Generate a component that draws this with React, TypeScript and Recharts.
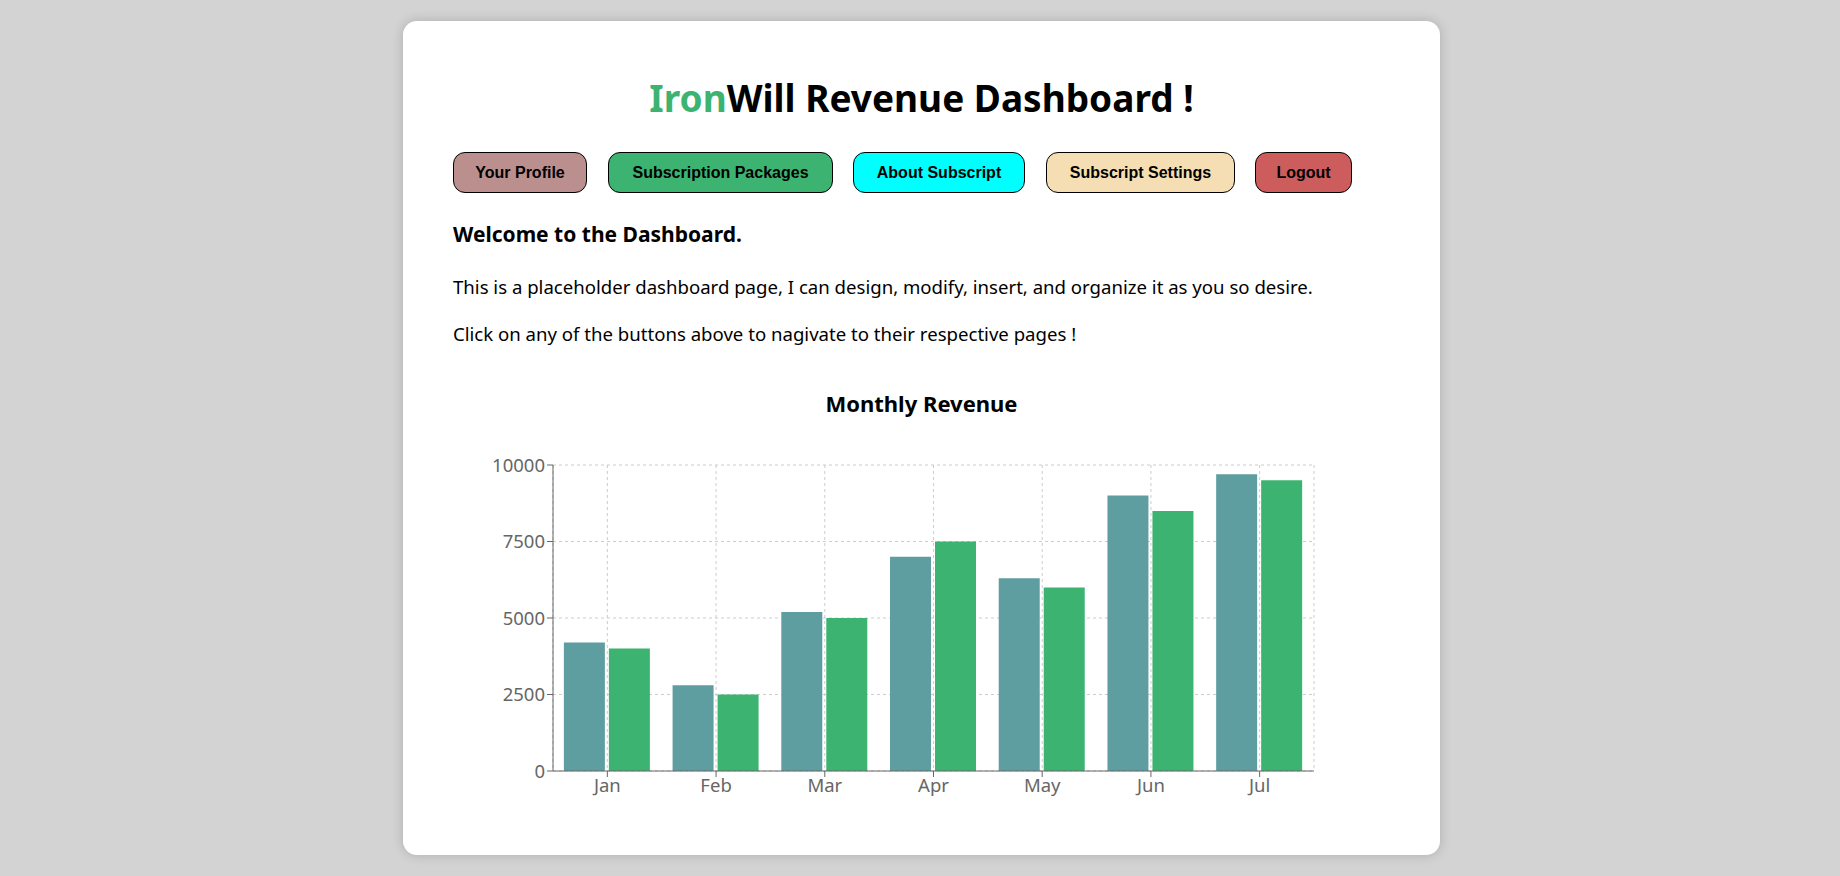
import React from 'react';
import { BarChart, Bar, XAxis, YAxis, CartesianGrid } from 'recharts';

const months = ['Jan', 'Feb', 'Mar', 'Apr', 'May', 'Jun', 'Jul'];
const revenueA = [4200, 2800, 5200, 7000, 6300, 9000, 9700];
const revenueB = [4000, 2500, 5000, 7500, 6000, 8500, 9500];
const yTicks = [0, 2500, 5000, 7500, 10000];

const data = months.map((name, i) => ({ name, a: revenueA[i], b: revenueB[i] }));

const buttons = [
  { label: 'Your Profile', bg: '#bc8f8f', left: 453, width: 134 },
  { label: 'Subscription Packages', bg: '#3cb371', left: 608, width: 225 },
  { label: 'About Subscript', bg: '#00ffff', left: 853, width: 172 },
  { label: 'Subscript Settings', bg: '#f5deb3', left: 1046, width: 189 },
  { label: 'Logout', bg: '#cd5c5c', left: 1255, width: 97 },
];

const font = '"Segoe UI", "Noto Sans", "Open Sans", sans-serif';

export default function App() {
  return (
    <div style={{ position: 'fixed', left: 0, top: 0, width: 1840, height: 876, background: '#d3d3d3', fontFamily: font, overflow: 'hidden' }}>
      <div style={{ position: 'absolute', left: 403, top: 21, width: 1037, height: 834, background: '#fff', borderRadius: 14, boxShadow: '0 0 12px rgba(0,0,0,0.18)' }} />
      <div style={{ position: 'absolute', left: 403, width: 1037, top: 72, textAlign: 'center', fontSize: 37, fontWeight: 700, color: '#000' }}>
        <span style={{ color: '#3cb371' }}>Iron</span>Will Revenue Dashboard !
      </div>
      {buttons.map((b) => (
        <div key={b.label} style={{ position: 'absolute', left: b.left, top: 152, width: b.width, height: 41, boxSizing: 'border-box', background: b.bg, border: '1px solid #000', borderRadius: 12, fontFamily: 'Arial, "Liberation Sans", sans-serif', fontWeight: 700, fontSize: 16, display: 'flex', alignItems: 'center', justifyContent: 'center' }}>
          {b.label}
        </div>
      ))}
      <div style={{ position: 'absolute', left: 453, top: 220, fontSize: 21, fontWeight: 700 }}>Welcome to the Dashboard.</div>
      <div style={{ position: 'absolute', left: 453, top: 274, fontSize: 18.6 }}>
        This is a placeholder dashboard page, I can design, modify, insert, and organize it as you so desire.
      </div>
      <div style={{ position: 'absolute', left: 453, top: 321, fontSize: 18.6 }}>
        Click on any of the buttons above to nagivate to their respective pages !
      </div>
      <div style={{ position: 'absolute', left: 403, width: 1037, top: 388, textAlign: 'center', fontSize: 22, fontWeight: 700 }}>Monthly Revenue</div>
      <div style={{ position: 'absolute', left: 485, top: 450 }}>
        <BarChart width={834} height={356} data={data} margin={{ top: 15, right: 5, bottom: 5, left: 8 }}>
          <CartesianGrid strokeDasharray="3 3" stroke="#ccc" />
          <XAxis dataKey="name" tick={{ fill: '#666', fontSize: 18.5 }} stroke="#666" />
          <YAxis ticks={yTicks} domain={[0, 10000]} tick={{ fill: '#666', fontSize: 18.5 }} stroke="#666" />
          <Bar dataKey="a" fill="#5f9ea0" isAnimationActive={false} />
          <Bar dataKey="b" fill="#3cb371" isAnimationActive={false} />
        </BarChart>
      </div>
    </div>
  );
}
